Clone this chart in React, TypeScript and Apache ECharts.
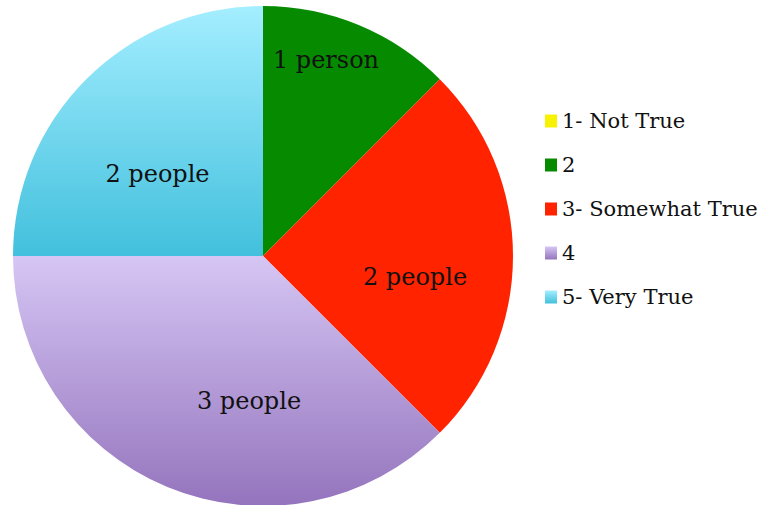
import React, { useEffect, useRef } from "react";
import * as echarts from "echarts";

const categories = ["1- Not True", "2", "3- Somewhat True", "4", "5- Very True"];
const values = [0, 1, 2, 3, 2];
const sliceLabels = ["", "1 person", "2 people", "3 people", "2 people"];

const grad = (top: string, bottom: string) =>
  new echarts.graphic.LinearGradient(0, 0, 0, 1, [
    { offset: 0, color: top },
    { offset: 1, color: bottom },
  ]);

const colors = [
  "#f7f200",
  "#068b00",
  "#ff2300",
  grad("#d6c6f4", "#9474bd"),
  grad("#a4eeff", "#42c0dd"),
];
const labelOffsets: [number, number][] = [
  [0, 0],
  [14, -78],
  [24, 21],
  [35, 27],
  [-15, 9],
];

export default function App() {
  const ref = useRef<HTMLDivElement>(null);
  useEffect(() => {
    if (!ref.current) return;
    const chart = echarts.init(ref.current, null, { renderer: "svg" });
    chart.setOption({
      animation: false,
      backgroundColor: "#ffffff",
      legend: {
        orient: "vertical",
        left: 545,
        top: 110,
        padding: 0,
        itemWidth: 12,
        itemHeight: 13,
        itemGap: 22,
        icon: "rect",
        data: categories,
        textStyle: {
          fontFamily: "DejaVu Serif",
          fontSize: 21,
          lineHeight: 22,
          color: "#111111",
        },
      },
      series: [
        {
          type: "pie",
          center: [263, 256],
          radius: 250,
          startAngle: 90,
          clockwise: true,
          avoidLabelOverlap: false,
          emphasis: { disabled: true },
          itemStyle: { borderWidth: 0 },
          labelLine: { show: false },
          data: categories.map((name, i) => ({
            name,
            value: values[i],
            itemStyle: { color: colors[i] },
            label: {
              show: values[i] > 0,
              position: "inside",
              formatter: sliceLabels[i],
              offset: labelOffsets[i],
              fontFamily: "DejaVu Serif",
              fontSize: 24,
              color: "#111111",
            },
          })),
        },
      ],
    });
    return () => chart.dispose();
  }, []);
  return (
    <div
      ref={ref}
      style={{ position: "fixed", left: 0, top: 0, width: 765, height: 505 }}
    />
  );
}
